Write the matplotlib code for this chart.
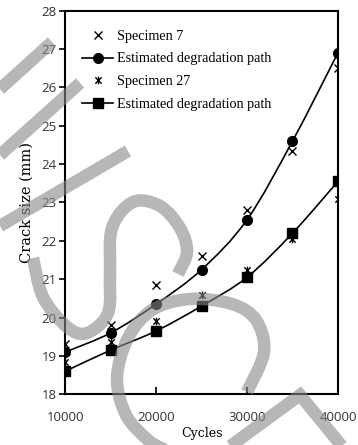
import numpy as np
import matplotlib
matplotlib.use('Agg')
import matplotlib.pyplot as plt
from matplotlib.path import Path
from matplotlib.patches import PathPatch
from matplotlib.lines import Line2D

# Data
cycles = [10000, 15000, 20000, 25000, 30000, 35000, 40000]
spec7 = [19.3, 19.8, 20.85, 21.6, 22.8, 24.35, 26.5]
est7 = [19.1, 19.6, 20.35, 21.25, 22.55, 24.6, 26.9]
spec27 = [18.85, 19.35, 19.9, 20.6, 21.25, 22.05, 23.1]
est27 = [18.6, 19.15, 19.65, 20.3, 21.05, 22.2, 23.55]

labels = ['Specimen 7', 'Estimated degradation path',
          'Specimen 27', 'Estimated degradation path']
x_ticks = [10000, 20000, 30000, 40000]
y_ticks = list(range(18, 29))

serif = 'Liberation Serif'
serif_wide = 'DejaVu Serif'
sans = 'Open Sans'


def smooth_path(xs, ys):
    # Catmull-Rom style bezier, like a spreadsheet "smoothed line"
    p = np.column_stack([xs, ys]).astype(float)
    verts = [p[0]]
    codes = [Path.MOVETO]
    n = len(p)
    for i in range(n - 1):
        p0 = p[i - 1] if i > 0 else p[i]
        p3 = p[i + 2] if i + 2 < n else p[i + 1]
        c1 = p[i] + (p[i + 1] - p0) / 6
        c2 = p[i + 1] - (p3 - p[i]) / 6
        verts += [c1, c2, p[i + 1]]
        codes += [Path.CURVE4] * 3
    return Path(verts, codes)


# star marker: x with a vertical stroke
star = Path([(-1, -1), (1, 1), (-1, 1), (1, -1), (0, -1.2), (0, 1.2)],
            [Path.MOVETO, Path.LINETO, Path.MOVETO, Path.LINETO, Path.MOVETO, Path.LINETO])

fig = plt.figure(figsize=(3.58, 4.45), dpi=100)
ax = fig.add_axes([0.182, 0.114, 0.762, 0.862])

ax.add_patch(PathPatch(smooth_path(cycles, est7), fill=False, lw=1.2, color='black'))
ax.add_patch(PathPatch(smooth_path(cycles, est27), fill=False, lw=1.2, color='black'))
ax.plot(cycles, spec7, ls='none', marker='x', ms=5.5, mew=1.0, color='black')
ax.plot(cycles, est7, ls='none', marker='o', ms=7, color='black')
ax.plot(cycles, spec27, ls='none', marker=star, ms=5.5, mew=1.0, color='black')
ax.plot(cycles, est27, ls='none', marker='s', ms=6.5, color='black')

ax.set_xlim(10000, 40000)
ax.set_ylim(18, 28)
ax.set_xticks(x_ticks)
ax.set_yticks(y_ticks)
for s in ax.spines.values():
    s.set_linewidth(1.5)
ax.tick_params(axis='x', direction='in', length=5, width=1.2, pad=12,
               labelsize=9.5, labelcolor='#333333')
ax.tick_params(axis='y', direction='out', length=4, width=1.2, pad=2,
               labelsize=9.5, labelcolor='#333333')
for lab in ax.get_xticklabels() + ax.get_yticklabels():
    lab.set_family(sans)

ax.set_xlabel('Cycles', family=serif_wide, fontsize=9, labelpad=2)
ax.set_ylabel('Crack size (mm)', family=serif_wide, fontsize=10.5, labelpad=6)

handles = [
    Line2D([], [], ls='none', marker='x', ms=5.5, mew=1.0, color='black'),
    Line2D([], [], lw=1.2, marker='o', ms=7, color='black'),
    Line2D([], [], ls='none', marker=star, ms=5.5, mew=1.0, color='black'),
    Line2D([], [], lw=1.2, marker='s', ms=6.5, color='black'),
]
ax.legend(handles, labels, loc='upper left', bbox_to_anchor=(0.062, 0.95),
          frameon=False, prop={'family': serif, 'size': 10.2},
          borderpad=0, borderaxespad=0,
          handlelength=2.2, handletextpad=0.3, labelspacing=0.68)

# grey watermark strokes (pixel coordinates, y from top)
W, H = 358, 445
strokes = [
    [(52, 42), (0, 89)],
    [(80, 83), (0, 155)],
    [(128, 151), (0, 226)],
    [(33, 258), (43, 297), (67, 327), (87, 333), (108, 313), (110, 273),
     (112, 228), (133, 202), (160, 206), (180, 228), (187, 252), (178, 274)],
    [(247, 392), (264, 352), (256, 320), (232, 304), (190, 299), (152, 310),
     (128, 338), (117, 378), (126, 415), (148, 440), (165, 450)],
    [(225, 450), (300, 395), (345, 450)],
]
for i, st in enumerate(strokes):
    xs = [q[0] / W for q in st]
    ys = [1 - q[1] / H for q in st]
    if i in (3, 4):
        pth = smooth_path(xs, ys)
    else:
        pth = Path(np.column_stack([xs, ys]))
    fig.add_artist(PathPatch(pth, transform=fig.transFigure, fill=False,
                             edgecolor='#888888', alpha=0.6, lw=9,
                             capstyle='butt', joinstyle='miter', zorder=10))

fig.savefig('out.png', dpi=100)
